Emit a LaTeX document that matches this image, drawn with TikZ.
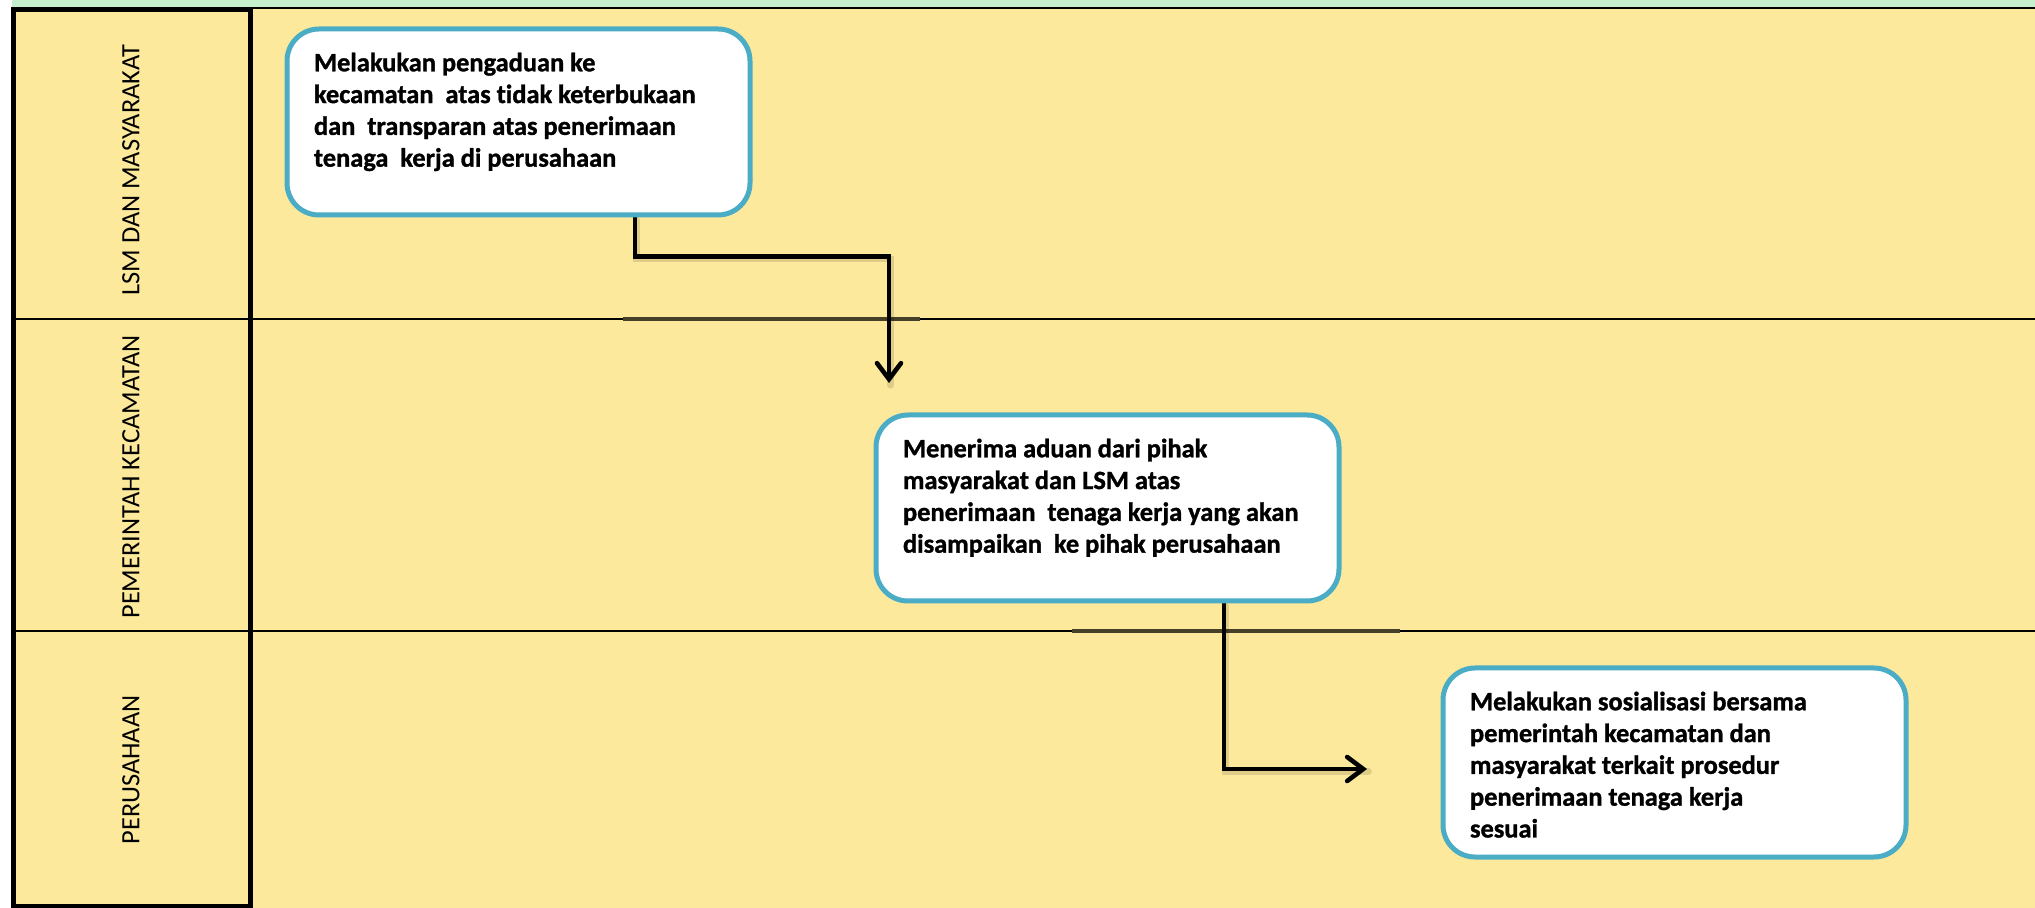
\documentclass[tikz,border=0pt]{standalone}
\usepackage{fontspec}
\setmainfont{Carlito}[Ligatures=CommonOff, BoldFeatures={FakeBold=1.2}]
\usetikzlibrary{arrows.meta}
\definecolor{laneyellow}{RGB}{253,233,155}
\definecolor{topgreen}{RGB}{198,239,206}
\definecolor{boxblue}{RGB}{75,172,198}
\definecolor{segdark}{RGB}{70,64,40}
\pgfdeclarelayer{lanes}
\pgfdeclarelayer{conn}
\pgfsetlayers{lanes,conn,main}
\begin{document}
\begin{tikzpicture}[x=0.5pt,y=-0.5pt,
  stepbox/.style={draw=boxblue, line width=2.5pt, fill=white, rounded corners=16pt,
    inner sep=0pt, minimum width=231.5pt, font=\bfseries\fontsize{13.2}{15.9}\selectfont},
  lanelabel/.style={rotate=90, inner sep=0pt, font=\fontsize{13.2}{15.9}\selectfont},
  laneline/.style={line width=1.2pt, black},
  laneseg/.style={line width=1.6pt, segdark},
  flowshadow/.style={line width=3.2pt, black, opacity=0.12, line cap=round,
    transform canvas={shift={(0.8pt,-1.2pt)}}},
  flow/.style={line width=2.3pt, line cap=round, line join=miter,
    -{Straight Barb[length=8pt,width=12pt,line cap=round]}}]
\useasboundingbox (0,0) rectangle (2035,908);
\begin{pgfonlayer}{lanes}
% backgrounds
\fill[white] (0,0) rectangle (2035,908);
\fill[topgreen] (12,0) rectangle (2035,8);
\fill[laneyellow] (12,8) rectangle (2035,908);
\draw[line width=1.2pt] (12,8) -- (2035,8);
% lane separators
\draw[laneline] (12,319) -- (2035,319);
\draw[laneline] (12,631) -- (2035,631);
\draw[laneseg] (623,319) -- (920,319);
\draw[laneseg] (1072,631) -- (1400,631);
% header column
\draw[line width=2.5pt] (13,10) rectangle (250,906);
\node[lanelabel] (l1) at (131,170) {LSM DAN MASYARAKAT};
\node[lanelabel] (l2) at (131,477) {PEMERINTAH KECAMATAN};
\node[lanelabel] (l3) at (131,770) {PERUSAHAAN};
\end{pgfonlayer}
% boxes
\node[stepbox, minimum height=93pt] (b1) at (518.5,122) {\parbox[c][93pt][t]{204.5pt}{\raggedright\vspace{10pt}\strut Melakukan pengaduan ke\\kecamatan\ \ atas tidak keterbukaan\\dan\ \ transparan atas penerimaan\\tenaga\ \ kerja di perusahaan}};
\node[stepbox, minimum height=93pt] (b2) at (1107.5,508) {\parbox[c][93pt][t]{204.5pt}{\raggedright\vspace{10pt}\strut Menerima aduan dari pihak\\masyarakat dan LSM atas\\penerimaan\ \ tenaga kerja yang akan\\disampaikan\ \ ke pihak perusahaan}};
\node[stepbox, minimum height=94.5pt] (b3) at (1674.5,762.5) {\parbox[c][94.5pt][t]{204.5pt}{\raggedright\vspace{10pt}\strut Melakukan sosialisasi bersama\\pemerintah kecamatan dan\\masyarakat terkait prosedur\\penerimaan tenaga kerja\\sesuai}};
% connectors
\coordinate (a1end) at (889,383);
\coordinate (a2end) at (1367,769);
\begin{pgfonlayer}{conn}
\draw[flowshadow] ([xshift=58.25pt]b1.south) -- ++(0,39) -| (a1end);
\draw[flowshadow] ([xshift=58.25pt]b2.south) |- (a2end);
\draw[flow] ([xshift=58.25pt]b1.south) -- ++(0,39) -| (a1end);
\draw[flow] ([xshift=58.25pt]b2.south) |- (a2end);
\end{pgfonlayer}
\end{tikzpicture}
\end{document}
